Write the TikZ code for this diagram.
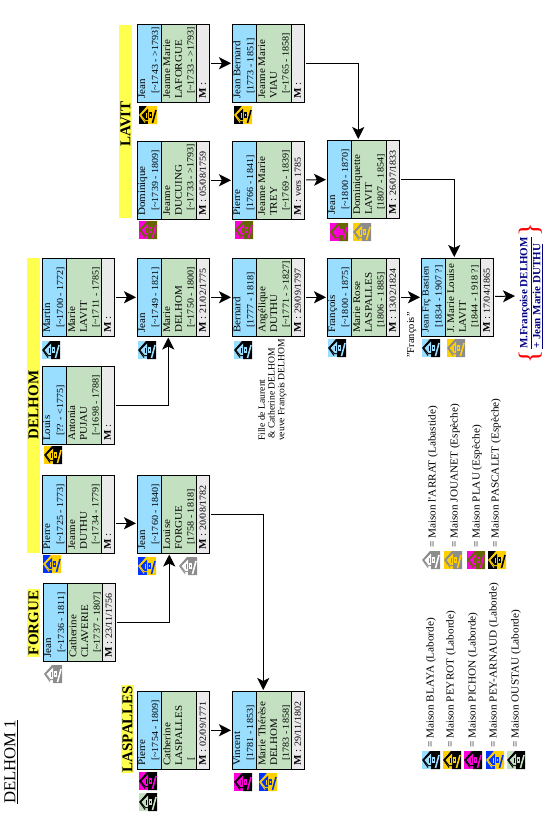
\documentclass[tikz,border=0pt]{standalone}
\usepackage{fontspec}
\setmainfont{Liberation Serif}
\newfontfamily\famfont[FakeStretch=1.08]{Liberation Serif}
\newfontfamily\legfont[FakeStretch=1.05]{Liberation Serif}
\usetikzlibrary{arrows.meta}
\definecolor{cblue}{HTML}{99DDFF}
\definecolor{cgreen}{HTML}{C3E1C0}
\definecolor{cgray}{HTML}{EAEAEA}
\definecolor{cban}{HTML}{FFFF4D}
\definecolor{cmag}{HTML}{FF00DD}
\definecolor{cpeb}{HTML}{0033FF}
\definecolor{cgold}{HTML}{FFD000}
\definecolor{colive}{HTML}{666600}
\definecolor{cgr}{HTML}{8C8C8C}
\definecolor{cnavy}{HTML}{000080}
\tikzset{
  x=1pt,y=-1pt,
  famframe/.style={draw=black,line width=1pt,minimum width=71.5pt,minimum height=77.5pt,anchor=north west,inner sep=0pt},
  famtext/.style={rotate=90,anchor=north west,align=left,inner sep=0pt,font=\famfont\fontsize{10.2}{#1}\selectfont},
  conn/.style={draw=black,line width=1pt,shorten <=1.5pt,shorten >=1pt,-{Stealth[length=12pt,width=12pt,inset=3pt]}},
  banner/.style={fill=cban,draw=none},
  bantext/.style={rotate=90,font=\fontsize{15}{15}\selectfont\bfseries,inner sep=0pt},
  legendtext/.style={rotate=90,anchor=west,inner sep=0pt,font=\legfont\fontsize{10.7}{12}\selectfont},
  notetext/.style={rotate=90,anchor=north west,align=left,inner sep=0pt,font=\fontsize{9.6}{9.8}\selectfont},
}
\newcommand\datesize{\fontsize{9.3}{\the\baselineskip}\selectfont}
% name, x, y, blue text, green text, marriage text
\newcommand\famcell[6]{%
  \fill[cblue] (#2,#3) rectangle ++(24,77.5);
  \fill[cgreen] (#2+24,#3) rectangle ++(35,77.5);
  \fill[cgray] (#2+59,#3) rectangle ++(12.5,77.5);
  \draw[line width=1pt] (#2+24,#3) -- ++(0,77.5) (#2+59,#3) -- ++(0,77.5);
  \node[famframe] (#1) at (#2,#3) {};
  \node[famtext=13] (#1b) at (#2+1.2,#3+75) {#4};
  \node[famtext=11.7] (#1g) at (#2+26.2,#3+75) {#5};
  \node[famtext=12] (#1m) at (#2+62,#3+75) {\textbf{M} : {\datesize #6}};
}
\newcommand\indt{\hspace*{5pt}\datesize}
% x, y, colour A, colour B
\newcommand\maison[4]{%
  \begin{scope}[shift={(#1,#2)}]
    \fill[#3] (0,0) rectangle (18,18);
    \fill[#4] (8,0) -- (18,0) -- (18,18) -- (9,18) -- (9,15) -- (6,15) -- (1,9) -- cycle;
    \draw[#4,line width=1pt] (8,1) -- (0.7,9) -- (6,16.5);
    \fill[#3] (2.5,9) -- (9,2.5) -- (9,14) -- (6.5,14) -- cycle;
    \fill[#4] (6.5,6.5) rectangle (8,12);
    \fill[#3] (10,6) rectangle (13,12);
    \fill[#4] (11,8) rectangle (12,10);
    \draw[#3,line width=1.6pt] (13.5,17) -- (17,4);
  \end{scope}%
}
\begin{document}
\begin{tikzpicture}
\useasboundingbox (0,0) rectangle (552,817);
% banners
\fill[banner] (119,25) rectangle (132,218);
\node[bantext] (lbl1) at (125.5,124) {LAVIT};
\fill[banner] (27,258) rectangle (40,553);
\node[bantext] (lbl2) at (33.5,405) {DELHOM};
\fill[banner] (27,589) rectangle (40,657);
\node[bantext] (lbl3) at (33.5,623) {FORGUE};
\fill[banner] (121,685) rectangle (134,773);
\node[bantext] (lbl4) at (127.5,729) {LASPALLES};
\node[rotate=90,inner sep=0pt,font=\fontsize{16.7}{17}\selectfont] (doc) at (11,762) {\underline{DELHOM 1}};
% families
\famcell{a}{137}{24}{Jean\\\indt[\string~1743 - >1793]}{Jeanne Marie\\LAFORGUE\\\indt[\string~1733 - >1793]}{}
\famcell{b}{232}{24}{Jean Bernard\\\indt[1773 - 1851]}{Jeanne Marie\\VIAU\\\indt[\string~1765 - 1858]}{}
\famcell{c}{137}{141}{Dominique\\\indt[\string~1739 - 1809]}{Jeanne\\DUCUING\\\indt[\string~1733 - >1793]}{05/08/1759}
\famcell{d}{232}{141}{Pierre\\\indt[1766 - 1841]}{Jeanne Marie\\TREY\\\indt[\string~1769 - 1839]}{vers 1785}
\famcell{e}{327}{140}{Jean\\\indt[\string~1800 - 1870]}{Dominiquette\\LAVIT\\\indt[1807 - 1854]}{26/07/1833}
\famcell{f}{42}{258}{Martin\\\indt[\string~1700 - 1772]}{Marie\\LAVIT\\\indt[\string~1711 - 1785]}{}
\famcell{g}{137}{258}{Jean\\\indt[\string~1749 - 1821]}{Marie\\DELHOM\\\indt[\string~1750 - 1800]}{21/02/1775}
\famcell{h}{232}{258}{Bernard\\\indt[1777 - 1818]}{Angélique\\DUTHU\\\indt[\string~1771 - >1827]}{29/09/1797}
\famcell{i}{327}{258}{François\\\indt[\string~1800 - 1875]}{Marie Rose\\LASPALLES\\\indt[1806 - 1885]}{13/02/1824}
\famcell{j}{421}{258}{{\datesize Jean Frç Bastien}\\\indt[1834 - 1907 ?]}{J. Marie Louise\\LAVIT\\\indt[1844 - 1918 ?]}{17/04/1865}
\famcell{k}{42}{366}{Louis\\\indt[?? - <1775]}{Antonia\\PUJAU\\\indt[\string~1698 - 1788]}{}
\famcell{l}{42}{475}{Pierre\\\indt[\string~1725 - 1773]}{Jeanne\\DUTHU\\\indt[\string~1734 - 1779]}{}
\famcell{m}{137}{475}{Jean\\\indt[\string~1760 - 1840]}{Louise\\FORGUE\\\indt[1758 - 1818]}{20/08/1782}
\famcell{n}{43}{583}{Jean\\\indt[\string~1736 - 1811]}{Catherine\\CLAVERIE\\\indt[\string~1737 - 1807]}{23/11/1756}
\famcell{o}{137}{691}{Pierre\\\indt[\string~1754 - 1809]}{Catherine\\LASPALLES\\\indt[}{02/09/1771}
\famcell{p}{232}{691}{Vincent\\\indt[1781 - 1853]}{Marie Thérèse\\DELHOM\\\indt[1783 - 1858]}{29/11/1802}
% title
\node[rotate=90,align=left,inner sep=0pt,text=cnavy,font=\fontsize{11}{13}\selectfont\bfseries] (title) at (531,293) {\underline{M.Françoise DELHOM}\\\underline{+ Jean Marie DUTHU}};
\node[rotate=90,inner sep=0pt,text=red,font=\fontsize{28}{28}\selectfont] (br1) at (531,357) {\{};
\node[rotate=90,inner sep=0pt,text=red,font=\fontsize{28}{28}\selectfont] (br2) at (531,230) {\}};
\coordinate (titleend) at (516,296);
% notes
\node[notetext] (note) at (258,441) {Fille de Laurent\\\hspace*{2pt}\& Catherine DELHOM\\veuve François DELHOM};
\node[rotate=90,anchor=north west,inner sep=0pt,font=\fontsize{10.5}{12}\selectfont] (surnom) at (407,358) {"François"};
% connectors
\draw[conn] (a) -- (b);
\draw[conn] (c) -- (d);
\draw[conn] (d) -- (e);
\draw[conn] (f) -- (g);
\draw[conn] (g) -- (h);
\draw[conn] (h) -- (i);
\draw[conn] (i) -- (j);
\draw[conn] (j) -- (titleend);
\draw[conn] ([yshift=-9pt]l.east) -- ([yshift=-9pt]m.west);
\draw[conn] (o) -- (p);
\draw[conn] (k.east) -| ([xshift=-5pt]g.south);
\draw[conn] (n.east) -| ([xshift=-4pt]m.south);
\draw[conn] (m.east) -| ([xshift=-5pt]p.north);
\draw[conn] (b.east) -| ([xshift=-5pt]e.north);
\draw[conn] (e.east) -| ([xshift=-3pt]j.north);
% houses
\maison{139}{106}{black}{cgold}
\maison{234}{106}{black}{cgold}
\maison{139}{221}{cmag}{colive}
\maison{235}{221}{cmag}{colive}
\maison{330}{223}{cmag}{colive}
\maison{353}{223}{cgold}{cgr}
\maison{42}{341}{cblue}{black}
\maison{138}{341}{cblue}{black}
\maison{234}{341}{cblue}{black}
\maison{328}{339}{cblue}{black}
\maison{422}{339}{cblue}{black}
\maison{447}{339}{cgold}{cgr}
\maison{44}{446}{cgold}{black}
\maison{43}{555}{cpeb}{cgold}
\maison{138}{557}{cpeb}{cgold}
\maison{179}{557}{white}{cgr}
\maison{44}{665}{white}{cgr}
\maison{139}{772}{cmag}{black}
\maison{139}{793}{cgreen}{black}
\maison{234}{773}{cmag}{black}
\maison{259}{773}{cpeb}{cgold}
% legend
\maison{422}{551}{white}{cgr}
\node[legendtext] (l1) at (433,548) {= Maison l'ARRAT (Labastide)};
\maison{444}{551}{cgold}{cgr}
\node[legendtext] (l2) at (455,548) {= Maison JOUANET (Espèche)};
\maison{467}{551}{cmag}{colive}
\node[legendtext] (l3) at (477,548) {= Maison PLAU (Espèche)};
\maison{488}{551}{black}{cgold}
\node[legendtext] (l4) at (496,548) {= Maison PASCALET (Espèche)};
\maison{422}{751}{cblue}{black}
\node[legendtext] (l5) at (431,748) {= Maison BLAYA (Laborde)};
\maison{443}{751}{cgold}{black}
\node[legendtext] (l6) at (451,748) {= Maison PEYROT (Laborde)};
\maison{464}{751}{cmag}{black}
\node[legendtext] (l7) at (473,748) {= Maison PICHON (Laborde)};
\maison{486}{751}{cpeb}{cgold}
\node[legendtext] (l8) at (494,748) {= Maison PEY-ARNAUD (Laborde)};
\maison{507}{751}{cgreen}{black}
\node[legendtext] (l9) at (516,748) {= Maison OUSTAU (Laborde)};
\end{tikzpicture}
\end{document}
